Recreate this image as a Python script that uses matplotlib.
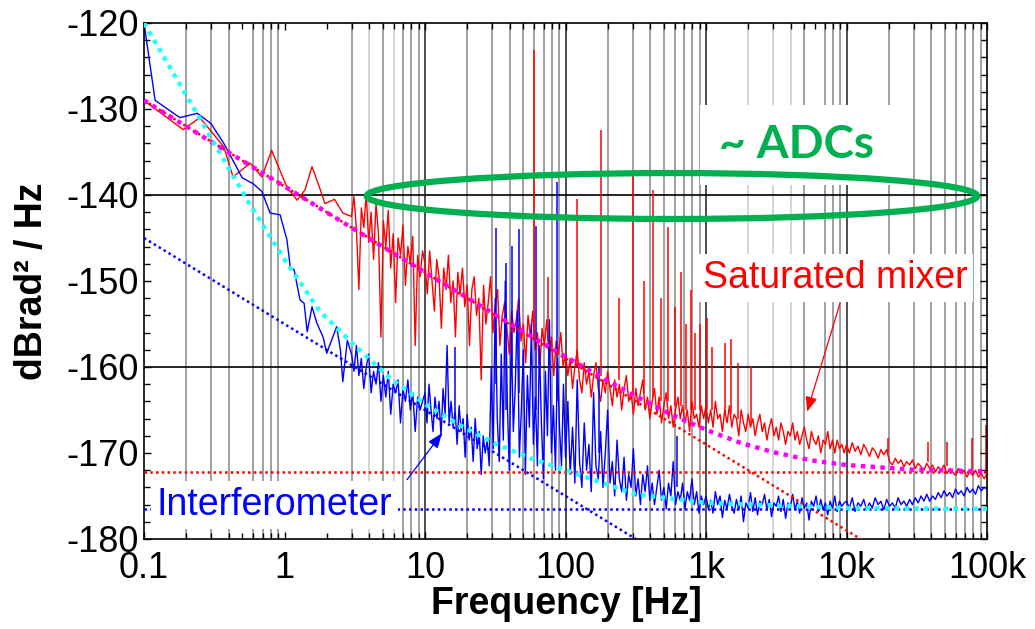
import numpy as np
import matplotlib.pyplot as plt
from matplotlib.patches import Ellipse

plt.rcParams['font.family'] = ['Liberation Sans', 'DejaVu Sans']
plt.rcParams['axes.unicode_minus'] = False

# ---- measured spectra (read off the picture) ----
# low-frequency part, explicit points
red_f_low = [0.1, 0.19, 0.25, 0.37, 0.43, 0.57, 0.69, 0.81, 1.04, 1.23, 1.4, 1.57, 1.8, 1.94, 2.27, 2.6]
red_db_low = [-129, -132.4, -131, -134.4, -137.9, -136.3, -137.9, -134.8, -139.1, -140.6,
              -139.4, -136.7, -139.4, -141, -140.5, -142.1]

# 3 Hz -> 10 Hz
red_db_a = [-142.5, -140.2, -144.0, -151.0, -141.5, -143.8, -139.8, -145.5, -142.0, -147.5,
            -141.0, -144.5, -156.5, -143.0, -146.0, -141.8, -148.5, -144.5, -152.5, -145.0,
            -147.0, -143.5, -150.5, -146.0, -148.0, -144.8, -157.5, -147.0, -149.5, -146.5]
# 10 Hz -> 100 Hz
red_db_b = [-148.0, -151.5, -146.5, -150.0, -153.5, -147.5, -149.5, -155.5, -148.5, -151.0,
            -147.0, -152.5, -150.0, -156.5, -149.0, -151.5, -148.5, -153.0, -150.5, -157.5,
            -151.0, -149.5, -154.0, -152.0, -161.5, -150.5, -155.0, -152.5, -149.5, -156.0,
            -153.0, -151.0, -157.5, -154.0, -152.5, -155.5, -158.5, -153.5, -156.0, -154.5,
            -152.0, -157.0, -155.0, -159.5, -154.0, -156.5, -153.5, -158.0, -156.0, -160.5,
            -155.5, -157.5, -154.5, -159.0, -156.5, -161.0, -157.0, -158.5, -156.0, -160.0]
# 100 Hz -> 1 kHz
red_db_c = [-158.5, -161.0, -159.0, -162.5, -160.0, -158.0, -161.5, -163.0, -159.5, -162.0,
            -160.5, -163.5, -161.0, -159.5, -162.5, -164.0, -161.5, -163.0, -160.5, -162.5,
            -164.5, -161.5, -163.5, -162.0, -165.0, -162.5, -161.0, -164.0, -163.0, -165.5,
            -162.5, -164.5, -163.0, -161.5, -165.0, -163.5, -166.0, -164.0, -162.5, -165.5,
            -163.5, -166.5, -164.5, -163.0, -166.0, -164.5, -167.0, -165.0, -163.5, -166.0,
            -164.5, -166.5, -165.0, -167.5, -164.0, -166.0, -165.5, -167.0, -164.5, -166.0]
# 1 kHz -> 10 kHz
red_db_d = [-164.5, -166.5, -165.0, -167.0, -164.0, -166.0, -165.5, -167.5, -165.0, -166.5,
            -164.5, -167.0, -165.5, -166.0, -168.0, -165.0, -166.5, -167.5, -165.5, -167.0,
            -166.0, -168.0, -166.5, -165.5, -167.5, -166.5, -168.5, -167.0, -166.0, -168.0,
            -167.0, -168.5, -166.5, -167.5, -169.0, -167.5, -168.0, -166.5, -168.5, -167.5,
            -169.0, -168.0, -167.0, -168.5, -169.5, -167.5, -168.5, -169.0, -168.0, -170.0,
            -168.5, -169.0, -167.5, -169.5, -168.5, -170.0, -168.5, -169.5, -169.0, -170.0]
# 10 kHz -> 100 kHz
red_db_e = [-169.0, -170.0, -168.8, -169.8, -169.2, -170.2, -169.0, -169.6, -170.4, -169.4,
            -169.8, -170.6, -169.6, -170.2, -169.6, -171.0, -171.4, -170.6, -171.2, -170.8,
            -171.6, -171.0, -171.4, -170.8, -171.8, -171.2, -171.6, -172.0, -171.2, -171.8,
            -171.4, -172.2, -171.6, -172.0, -171.4, -172.4, -171.8, -172.2, -172.6, -171.8,
            -172.4, -172.0, -172.8, -172.2, -172.6, -172.0, -172.8, -172.4, -173.0, -172.4]

red_spike_f = [60, 75, 120, 180, 240, 300, 360, 420, 480, 540, 600, 660, 720, 780, 840, 900,
               1020, 1100, 1370, 1500, 1700, 2100, 19700, 38000, 52000, 78000, 98000]
red_spike_top = [-123.1, -149.5, -140.5, -132.4, -152.0, -137.4, -150.0, -139.4, -152.0, -143.7,
                 -153.0, -149.0, -155.0, -151.0, -156.0, -155.0,
                 -154.3, -157.7, -157.2, -156.7, -159.5, -159.9, -168.2, -168.7, -168.7, -168.3, -166.8]
red_spike_base = [-157, -157, -160, -161, -161.5, -163, -163, -163.5, -164, -164, -164.5, -164.5,
                  -165, -165, -165, -165, -165, -165, -165.5, -165.5, -166, -166.5,
                  -170, -171, -171.5, -172, -172.3]

blue_f_low = [0.1, 0.12, 0.18, 0.24, 0.3, 0.37, 0.5, 0.6, 0.69, 0.79, 0.93, 1.04, 1.1, 1.17,
              1.29, 1.38, 1.45, 1.57, 1.7, 1.88, 2.0, 2.35, 2.5, 2.6, 2.8]
blue_db_low = [-120, -129, -131, -130.5, -131.7, -134, -138, -138.7, -139.6, -142.1, -142.3,
               -145.2, -148.4, -148.7, -152.2, -152.6, -155.9, -153, -154.9, -156.5, -158.4,
               -155.3, -158, -161.7, -156.9]
blue_db_a = [-158.5, -160.5, -157.5, -161.0, -159.0, -162.5, -160.0, -158.5, -163.0, -160.5,
             -162.0, -159.5, -164.0, -161.0, -163.5, -160.5, -165.5, -162.0, -163.0, -161.5,
             -166.5, -162.5, -164.0, -161.5, -165.0, -163.0, -167.5, -163.5, -165.0, -164.0]
blue_db_b = [-163.0, -166.5, -162.0, -165.0, -167.5, -163.5, -166.0, -164.0, -168.0, -162.5,
             -165.5, -157.5, -166.5, -164.0, -167.0, -165.0, -169.0, -164.5, -167.5, -166.0,
             -170.5, -165.5, -168.5, -167.0, -171.0, -166.0, -169.5, -167.5, -172.5, -168.0,
             -170.0, -168.5, -171.5,
             -160.0, -169.5, -152.0, -166.0, -171.0, -158.5, -168.5, -150.0, -164.0, -172.0,
             -156.0, -167.5, -162.0, -153.5, -170.5, -165.0, -158.0, -172.5, -161.0, -167.0,
             -155.0, -169.0, -163.5, -171.5, -157.5, -166.5, -173.0, -160.5, -168.0, -154.5,
             -170.0, -164.5, -172.0, -159.0, -167.0, -171.5, -162.0]
blue_db_c = [-170.5, -164.0, -172.5, -167.0, -173.5, -161.5, -171.0, -174.0, -166.5, -172.0,
             -169.0, -174.5, -163.0, -171.5, -173.0, -167.5, -174.0, -170.0, -165.0, -173.5,
             -171.0, -175.0, -168.5, -173.0, -174.5, -170.5, -175.5, -172.5, -174.0, -169.5,
             -175.0, -173.0, -176.0, -172.5, -174.5, -171.5, -175.5, -173.5, -176.0, -174.0,
             -172.0, -175.5, -174.0, -176.5, -173.5, -175.0, -171.0, -176.0, -174.5, -175.5,
             -173.5, -176.5, -174.5, -175.5, -173.0, -176.0, -174.5, -177.0, -175.0, -176.0]
blue_db_d = [-175.0, -176.5, -175.5, -177.0, -174.5, -176.0, -175.0, -177.5, -175.5, -176.5,
             -174.8, -176.2, -177.0, -175.4, -176.6, -175.0, -178.0, -175.8, -176.4, -174.6,
             -176.8, -175.2, -177.2, -175.6, -176.0, -174.8, -176.6, -175.4, -177.4, -175.8,
             -176.2, -175.0, -176.8, -175.4, -177.6, -175.8, -176.4, -174.8, -176.6, -175.6,
             -177.0, -175.2, -176.4, -175.8, -177.8, -175.6, -176.2, -175.0, -176.8, -175.4,
             -176.6, -175.8, -177.2, -175.6, -176.4, -175.0, -176.8, -175.6, -176.2, -175.8]
blue_db_e = [-175.6, -176.4, -175.2, -176.8, -175.8, -176.2, -175.4, -176.6, -175.8, -176.4,
             -175.2, -176.0, -175.6, -176.6, -175.4, -176.2, -175.8, -176.4, -175.2, -176.0,
             -175.6, -176.2, -175.4, -176.0, -175.2, -175.8, -175.0, -175.6, -174.8, -175.6,
             -175.0, -175.4, -174.6, -175.2, -174.4, -175.0, -174.6, -175.2, -174.2, -174.8,
             -174.4, -175.0, -174.0, -174.6, -174.2, -174.8, -173.8, -174.4, -174.0, -174.2]

blue_spike_f = [16.3, 32, 38, 41.5, 46.6, 62, 87, 174, 620]
blue_spike_top = [-157.7, -143.8, -147.9, -145.9, -144.0, -143.6, -138.5, -160.0, -168.0]
blue_spike_base = [-165, -162, -165, -160, -163, -165, -164, -170, -174]

# ---- noise models ----
red_fit_f = [0.1, 1e5]
red_fit_db = [-129, -189]
red_floor = -172.25
blue_fit_f = [0.1, 1e5]
blue_fit_db = [-145, -205]
blue_floor = -176.5
mag_f = [0.1, 0.3, 1, 3, 10, 30, 100, 178, 300, 560, 1000, 1780, 3000, 5620, 10000, 30000, 100000]
mag_db = [-129.0, -133.8, -139.0, -143.8, -149.0, -153.7, -158.8, -161.15, -163.2, -165.5,
          -167.3, -168.85, -169.9, -170.86, -171.4, -171.95, -172.15]
cyan_f = [0.1, 0.178, 0.316, 0.562, 1, 1.78, 3.16, 5.62, 10, 17.8, 31.6, 56.2, 100, 316,
          1000, 3160, 10000, 100000]
cyan_db = [-120, -127, -134, -141, -147.5, -153.5, -157.5, -161.3, -164.3, -166.8, -168.9,
           -170.6, -172.0, -174.8, -175.8, -176.1, -176.4, -176.5]

decade_edges = [np.log10(3), 1, 2, 3, 4, 5]


def stitch(f_low, db_low, segs):
    f = list(f_low)
    db = list(db_low)
    for i, s in enumerate(segs):
        last = i == len(segs) - 1
        f += list(np.logspace(decade_edges[i], decade_edges[i + 1], len(s), endpoint=last))
        db += s
    return f, db


red_f, red_db = stitch(red_f_low, red_db_low, [red_db_a, red_db_b, red_db_c, red_db_d, red_db_e])
blue_f, blue_db = stitch(blue_f_low, blue_db_low, [blue_db_a, blue_db_b, blue_db_c, blue_db_d, blue_db_e])

fig = plt.figure(figsize=(10.35, 6.29), dpi=100)
ax = fig.add_axes([144 / 1035, 90 / 629, 843 / 1035, 516 / 629])
ax.set_xscale('log')
ax.set_xlim(0.1, 1e5)
ax.set_ylim(-180, -120)

# grid (the exported original drops a few minor lines)
grid_mid = [0.2, 0.3, 0.4, 0.6, 0.7, 0.8, 0.9, 3, 5, 7, 8, 9,
            20, 30, 40, 50, 60, 70, 80, 90, 200, 300, 400, 500, 600, 700, 800, 900,
            5000, 7000, 8000, 9000, 20000, 30000, 40000, 50000, 60000, 70000, 80000, 90000]
grid_light = [4, 6, 2000, 3000, 4000]
grid_major = [10, 100, 1000, 10000]
for g in grid_mid:
    ax.axvline(g, color='0.6', lw=1.3, zorder=0.5)
for g in grid_light:
    ax.axvline(g, color='0.82', lw=1.3, zorder=0.5)
for g in grid_major:
    ax.axvline(g, color='0.25', lw=1.3, zorder=0.6)
for g in [-140, -160]:
    ax.axhline(g, color='black', lw=1.2, zorder=0.6)

# traces
ax.plot(red_f, red_db, color='#ff0000', lw=1.0, zorder=2)
ax.vlines(red_spike_f, red_spike_base, red_spike_top, color='#ff0000', lw=1.1, zorder=2)
ax.plot(blue_f, blue_db, color='#0000ff', lw=1.0, zorder=2.2)
ax.vlines(blue_spike_f, blue_spike_base, blue_spike_top, color='#0000ff', lw=1.1, zorder=2.2)

# fits
ax.plot(red_fit_f, red_fit_db, color='#ff0000', lw=1.8, ls=(0, (1, 1.3)), zorder=3)
ax.axhline(red_floor, color='#ff0000', lw=1.8, ls=(0, (1, 1.3)), zorder=3)
ax.plot(blue_fit_f, blue_fit_db, color='#0000ff', lw=1.8, ls=(0, (1, 1.3)), zorder=3)
ax.axhline(blue_floor, color='#0000ff', lw=1.8, ls=(0, (1, 1.3)), zorder=3)
ax.plot(mag_f, mag_db, color='#ff00ff', lw=3.2, ls=(0, (1, 1.2)), zorder=3.2)
ax.plot(cyan_f, cyan_db, color='#22ffff', lw=3.2, ls=(0, (1, 1.2)), zorder=3.2)

# labels with white boxes
ax.text(0.7746, 0.764, '~ ADCs', transform=ax.transAxes, ha='center', va='center',
        fontsize=33, fontweight='bold', family=['Lato', 'DejaVu Sans'], color='#00b050',
        bbox=dict(facecolor='white', edgecolor='none', pad=14), zorder=5)
ax.text(0.6631, 0.5058, 'Saturated mixer', transform=ax.transAxes, ha='left', va='center',
        fontsize=27, color='#ff0000',
        bbox=dict(facecolor='white', edgecolor='none', pad=4), zorder=5)
ax.text(0.0154, 0.066, 'Interferometer', transform=ax.transAxes, ha='left', va='center',
        fontsize=27, color='#0000ff',
        bbox=dict(facecolor='white', edgecolor='none', pad=4), zorder=5)

ax.add_patch(Ellipse((0.6263, 0.6647), 0.724, 0.089, transform=ax.transAxes,
                     fill=False, edgecolor='#00b050', lw=4.5, zorder=6))

arrow = dict(arrowstyle='-|>,head_length=0.9,head_width=0.35', lw=0.9, shrinkA=0, shrinkB=0)
ax.annotate('', xy=(5240, -165.2), xytext=(8990, -152.6),
            arrowprops=dict(color='#ff0000', **arrow), zorder=6)
ax.annotate('', xy=(13.2, -167.7), xytext=(7.45, -173.1),
            arrowprops=dict(color='#0000ff', **arrow), zorder=6)

# axes styling
ax.set_xticks([0.1, 1, 10, 100, 1e3, 1e4, 1e5])
ax.set_xticklabels(['0.1', '1', '10', '100', '1k', '10k', '100k'])
ax.set_yticks(np.arange(-180, -119, 10))
ax.set_yticks(np.arange(-180, -119, 2), minor=True)
ax.tick_params(which='both', direction='in', top=True, right=True, width=1, labelsize=26)
ax.tick_params(which='major', length=5)
ax.tick_params(which='minor', length=4)
ax.tick_params(axis='x', pad=9)
ax.tick_params(axis='y', pad=4)
for s in ax.spines.values():
    s.set_linewidth(1.2)

fig.text(566 / 1035, 1 - 604 / 629, 'Frequency [Hz]', ha='center', va='center',
         fontsize=27, fontweight='bold')
fig.text(32 / 1035, 1 - 281 / 629, 'dBrad² / Hz', ha='center', va='center',
         rotation=90, fontsize=27, fontweight='bold')

fig.savefig('out.png', dpi=100)
